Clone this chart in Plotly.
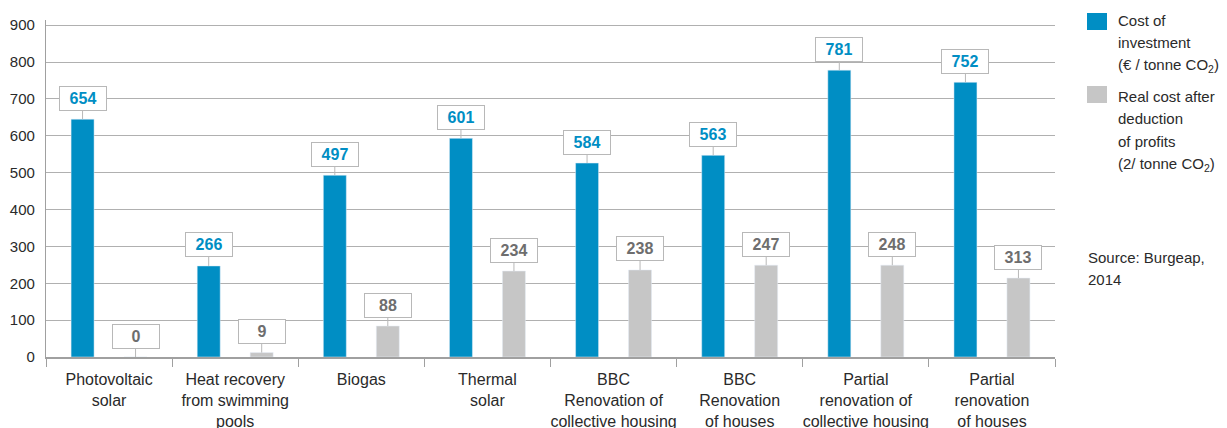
import plotly.graph_objects as go

categories = ["Photovoltaic<br>solar", "Heat recovery<br>from swimming<br>pools", "Biogas",
              "Thermal<br>solar", "BBC<br>Renovation of<br>collective housing",
              "BBC<br>Renovation<br>of houses", "Partial<br>renovation of<br>collective housing",
              "Partial<br>renovation<br>of houses"]
# bar heights as drawn in the picture
investment = [645, 247, 493, 593, 526, 547, 778, 745]
real_cost = [0, 12, 84, 233, 236, 249, 249, 214]
# value labels as printed in the callouts
investment_labels = ["654", "266", "497", "601", "584", "563", "781", "752"]
real_cost_labels = ["0", "9", "88", "234", "238", "247", "248", "313"]
y_ticks = [0, 100, 200, 300, 400, 500, 600, 700, 800, 900]
legend_investment = ["Cost of", "investment", "(€ / tonne CO<sub>2</sub>)"]
legend_real = ["Real cost after", "deduction", "of profits", "(2/ tonne CO<sub>2</sub>)"]
source_lines = ["Source: Burgeap,", "2014"]

BLUE = "#008ec4"
GRAY = "#c6c6c6"
FONT = "Liberation Sans, Arial, sans-serif"

W, H = 1227, 428
OFF = 8  # default page body margin in the browser
# plot area in screen pixels: x 46..1055, y 20..357
L = 46 - OFF
T = 20 - OFF
R = W - (1055 - OFF)
B = H - (357 - OFF)

fig = go.Figure()
fig.add_bar(x=categories, y=investment, marker_color=BLUE, name="Cost of investment")
fig.add_bar(x=categories, y=real_cost, marker_color=GRAY, name="Real cost")

annotations = []
for series, labels, tcolor, idx in ((investment, investment_labels, BLUE, 0),
                                    (real_cost, real_cost_labels, "#6e6e6e", 1)):
    for cat, v, lab in zip(categories, series, labels):
        annotations.append(dict(
            x=cat, y=v, xref="x", yref="y", text="<b>%s</b>" % lab,
            xshift=-26.5 if idx == 0 else 26.5,
            showarrow=True, ax=0, ay=-21, arrowhead=0, arrowwidth=1,
            arrowcolor="#b8b8b8", standoff=0,
            bordercolor="#b8b8b8", borderwidth=1, borderpad=2, bgcolor="white",
            width=42, height=19, font=dict(family=FONT, size=16, color=tcolor)))

pw, ph = 1055 - 46, 357 - 20
def px(x):
    return (x - 46) / pw
def py(y):
    return (357 - y) / ph

shapes = [
    dict(type="rect", xref="paper", yref="paper", x0=px(1087), x1=px(1107), y0=py(30), y1=py(13),
         fillcolor=BLUE, line_width=0),
    dict(type="rect", xref="paper", yref="paper", x0=px(1087), x1=px(1107), y0=py(103), y1=py(86),
         fillcolor=GRAY, line_width=0),
]

def add_lines(lines, x_left, y_first, step=22.8):
    for i, txt in enumerate(lines):
        annotations.append(dict(x=px(x_left), y=py(y_first + i * step), xref="paper", yref="paper",
                                text=txt, showarrow=False, xanchor="left", yanchor="middle",
                                align="left", font=dict(family=FONT, size=15, color="#2a2a2a")))

add_lines(legend_investment, 1116, 20)
add_lines(legend_real, 1116, 96)
add_lines(source_lines, 1086, 257)

fig.update_layout(
    width=W, height=H, autosize=False,
    margin=dict(l=L, r=R, t=T, b=B),
    paper_bgcolor="white", plot_bgcolor="white",
    barmode="group", bargap=0.16, bargroupgap=0.566,
    showlegend=False,
    font=dict(family=FONT, size=16, color="#2a2a2a"),
    shapes=shapes, annotations=annotations,
)
fig.update_xaxes(type="category", tickson="boundaries", ticks="outside", ticklen=8,
                 tickcolor="#a0a0a0", tickwidth=1, showline=True, linecolor="#a0a0a0",
                 linewidth=1.5, showgrid=False, tickangle=0, automargin=False,
                 ticklabelstandoff=7, tickfont=dict(size=16, color="#2a2a2a"))
fig.update_yaxes(range=[0, 914], tickvals=y_ticks, showgrid=True, gridcolor="#b0b0b0",
                 gridwidth=1.3, showline=True, linecolor="#a0a0a0", linewidth=1.2,
                 zeroline=False, ticks="", ticklabelstandoff=7, automargin=False,
                 tickfont=dict(size=15, color="#2a2a2a"))

fig.write_html("out.html")
